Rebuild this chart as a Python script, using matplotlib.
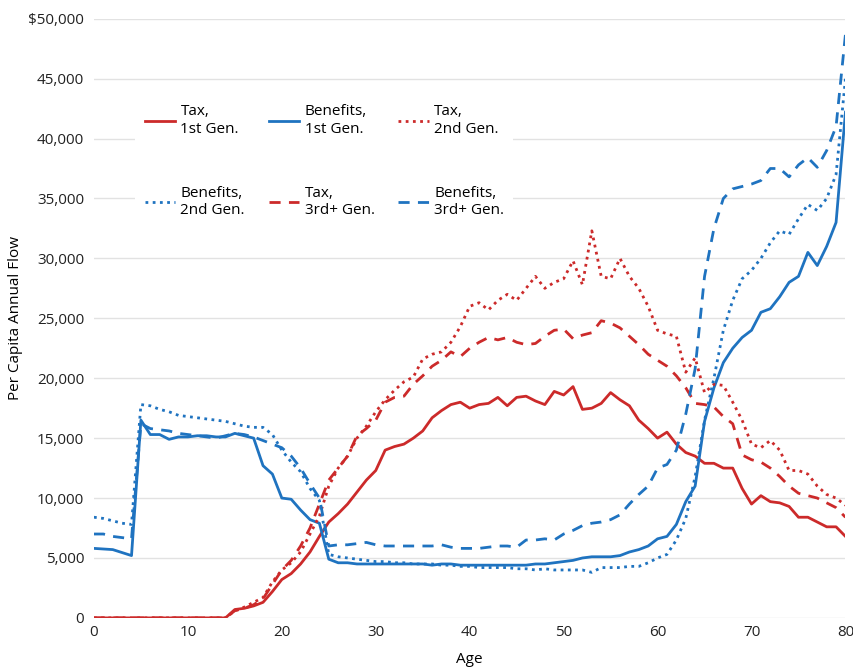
import matplotlib

matplotlib.use("Agg")
import matplotlib.pyplot as plt
from matplotlib.ticker import FuncFormatter

plt.rcParams["font.family"] = ["Open Sans", "DejaVu Sans"]

RED = "#cc2a2a"
BLUE = "#1f73c0"

ages = list(range(81))

tax_1st = [0] * 15 + [
    700, 800, 1000, 1300, 2200, 3200, 3700, 4500, 5500, 6800,
    8000, 8700, 9500, 10500, 11500, 12300, 14000, 14300, 14500, 15000,
    15600, 16700, 17300, 17800, 18000, 17500, 17800, 17900, 18400, 17700,
    18400, 18500, 18100, 17800, 18900, 18600, 19300, 17400, 17500, 17900,
    18800, 18200, 17700, 16500, 15800, 15000, 15500, 14500, 13800, 13500,
    12900, 12900, 12500, 12500, 10800, 9500, 10200, 9700, 9600, 9300,
    8400, 8400, 8000, 7600, 7600, 6800,
]
ben_1st = [
    5800, 5750, 5700, 5450, 5200, 16500, 15300, 15300, 14900, 15100,
    15100, 15200, 15200, 15100, 15100, 15400, 15200, 15000, 12700, 12000,
    10000, 9900, 9000, 8200, 7900, 4900, 4600, 4600, 4500, 4500,
    4500, 4500, 4500, 4500, 4500, 4500, 4400, 4500, 4500, 4400,
    4400, 4400, 4400, 4400, 4400, 4400, 4400, 4500, 4500, 4600,
    4700, 4800, 5000, 5100, 5100, 5100, 5200, 5500, 5700, 6000,
    6600, 6800, 7800, 9700, 11000, 16400, 19200, 21300, 22500, 23400,
    24000, 25500, 25800, 26800, 28000, 28500, 30500, 29400, 31000, 33000,
    42200,
]
tax_2nd = [0] * 15 + [
    600, 900, 1300, 1700, 3000, 4000, 4600, 5500, 7000, 8500,
    11000, 12500, 13500, 15000, 16000, 17200, 18200, 19000, 19700, 20100,
    21600, 22000, 22200, 23000, 24300, 26000, 26300, 25700, 26500, 27000,
    26500, 27500, 28500, 27500, 28000, 28300, 29800, 27800, 32300, 28500,
    28300, 30000, 28500, 27500, 26000, 24000, 23700, 23500, 20500, 21700,
    18800, 19500, 19400, 18000, 16500, 14500, 14200, 14800, 14000, 12300,
    12300, 12000, 11000, 10300, 10000, 9400,
]
ben_2nd = [
    8400, 8300, 8100, 7900, 7800, 17800, 17700, 17400, 17200, 16900,
    16800, 16700, 16600, 16500, 16400, 16200, 16000, 15900, 15900, 15300,
    14000, 13000, 12200, 10800, 9800, 5300, 5100, 5000, 4900, 4800,
    4700, 4700, 4600, 4600, 4500, 4500, 4500, 4400, 4400, 4300,
    4300, 4200, 4200, 4200, 4200, 4100, 4100, 4000, 4100, 4000,
    4000, 4000, 4000, 3800, 4200, 4200, 4200, 4300, 4300, 4600,
    5000, 5300, 6500, 8300, 11800, 16500, 20000, 24000, 26500, 28300,
    29000, 30000, 31300, 32300, 32000, 33300, 34500, 34000, 35000, 37000,
    45000,
]
tax_3rd = [0] * 15 + [
    600, 800, 1100, 1600, 2800, 4000, 4800, 6000, 7500, 9500,
    11500, 12500, 13500, 15200, 15800, 16500, 18000, 18400, 18500, 19500,
    20200, 21000, 21500, 22200, 21800, 22500, 23000, 23400, 23200, 23400,
    23000, 22800, 22900, 23500, 24000, 24100, 23300, 23600, 23800, 24800,
    24600, 24200, 23500, 22800, 22000, 21500, 21000, 20200, 19200, 17900,
    17800, 17600, 16800, 16200, 13600, 13200, 13000, 12500, 11800, 11000,
    10400, 10200, 10000, 9600, 9200, 8400,
]
ben_3rd = [
    7000, 7000, 6800, 6700, 6600, 16200, 15800, 15700, 15600, 15400,
    15300, 15200, 15100, 15000, 15200, 15400, 15300, 15100, 14800, 14500,
    14200, 13500, 12500, 11200, 10000, 6000, 6100, 6100, 6200, 6300,
    6100, 6000, 6000, 6000, 6000, 6000, 6000, 6100, 5900, 5800,
    5800, 5800, 5900, 6000, 6000, 5900, 6500, 6500, 6600, 6500,
    7000, 7300, 7700, 7900, 8000, 8200, 8600, 9500, 10300, 11000,
    12500, 12800, 14000, 17000, 20800, 28500, 32500, 35000, 35800, 36000,
    36200, 36500, 37500, 37500, 36800, 37800, 38400, 37600, 39000, 41000,
    48700,
]

fig = plt.figure(figsize=(8.54, 6.68), dpi=100)
ax = fig.add_axes([0.110, 0.075, 0.880, 0.897])

lw = 2.0
series = [
    ("Tax,\n1st Gen.", tax_1st, RED, "-"),
    ("Benefits,\n1st Gen.", ben_1st, BLUE, "-"),
    ("Tax,\n2nd Gen.", tax_2nd, RED, (0, (1, 1.6))),
    ("Benefits,\n2nd Gen.", ben_2nd, BLUE, (0, (1, 1.6))),
    ("Tax,\n3rd+ Gen.", tax_3rd, RED, (0, (4, 3))),
    ("Benefits,\n3rd+ Gen.", ben_3rd, BLUE, (0, (4, 3))),
]
lines = []
for label, vals, color, ls in series:
    (ln,) = ax.plot(ages, vals, color=color, ls=ls, lw=lw, label=label, zorder=3)
    lines.append(ln)

ax.set_xlim(0, 80)
ax.set_ylim(0, 50000)
ax.set_xticks(range(0, 81, 10))
ax.set_yticks(range(0, 50001, 5000))
ax.yaxis.set_major_formatter(
    FuncFormatter(lambda v, p: f"${v:,.0f}" if v == 50000 else f"{v:,.0f}")
)
ax.grid(True, axis="y", color="#e2e2e2", lw=1.0, zorder=0)
for s in ax.spines.values():
    s.set_visible(False)
ax.tick_params(length=0, labelsize=11, colors="#222222")
ax.tick_params(axis="y", pad=7)
ax.tick_params(axis="x", pad=5)
ax.set_xlabel("Age", fontsize=11, labelpad=9)
ax.set_ylabel("Per Capita Annual Flow", fontsize=11, labelpad=4)

# matplotlib fills legend columns first, so reorder to get row-wise layout
order = [0, 3, 1, 4, 2, 5]
leg = ax.legend(
    [lines[i] for i in order], [series[i][0] for i in order],
    ncol=3, loc="upper left", bbox_to_anchor=(0.045, 0.885),
    frameon=True, facecolor="white", edgecolor="none", framealpha=1,
    fontsize=11, handlelength=2.0, handletextpad=0.35, columnspacing=1.55,
    labelspacing=3.2, borderpad=0.6,
)
leg.set_zorder(5)

fig.savefig("out.png", dpi=100)
